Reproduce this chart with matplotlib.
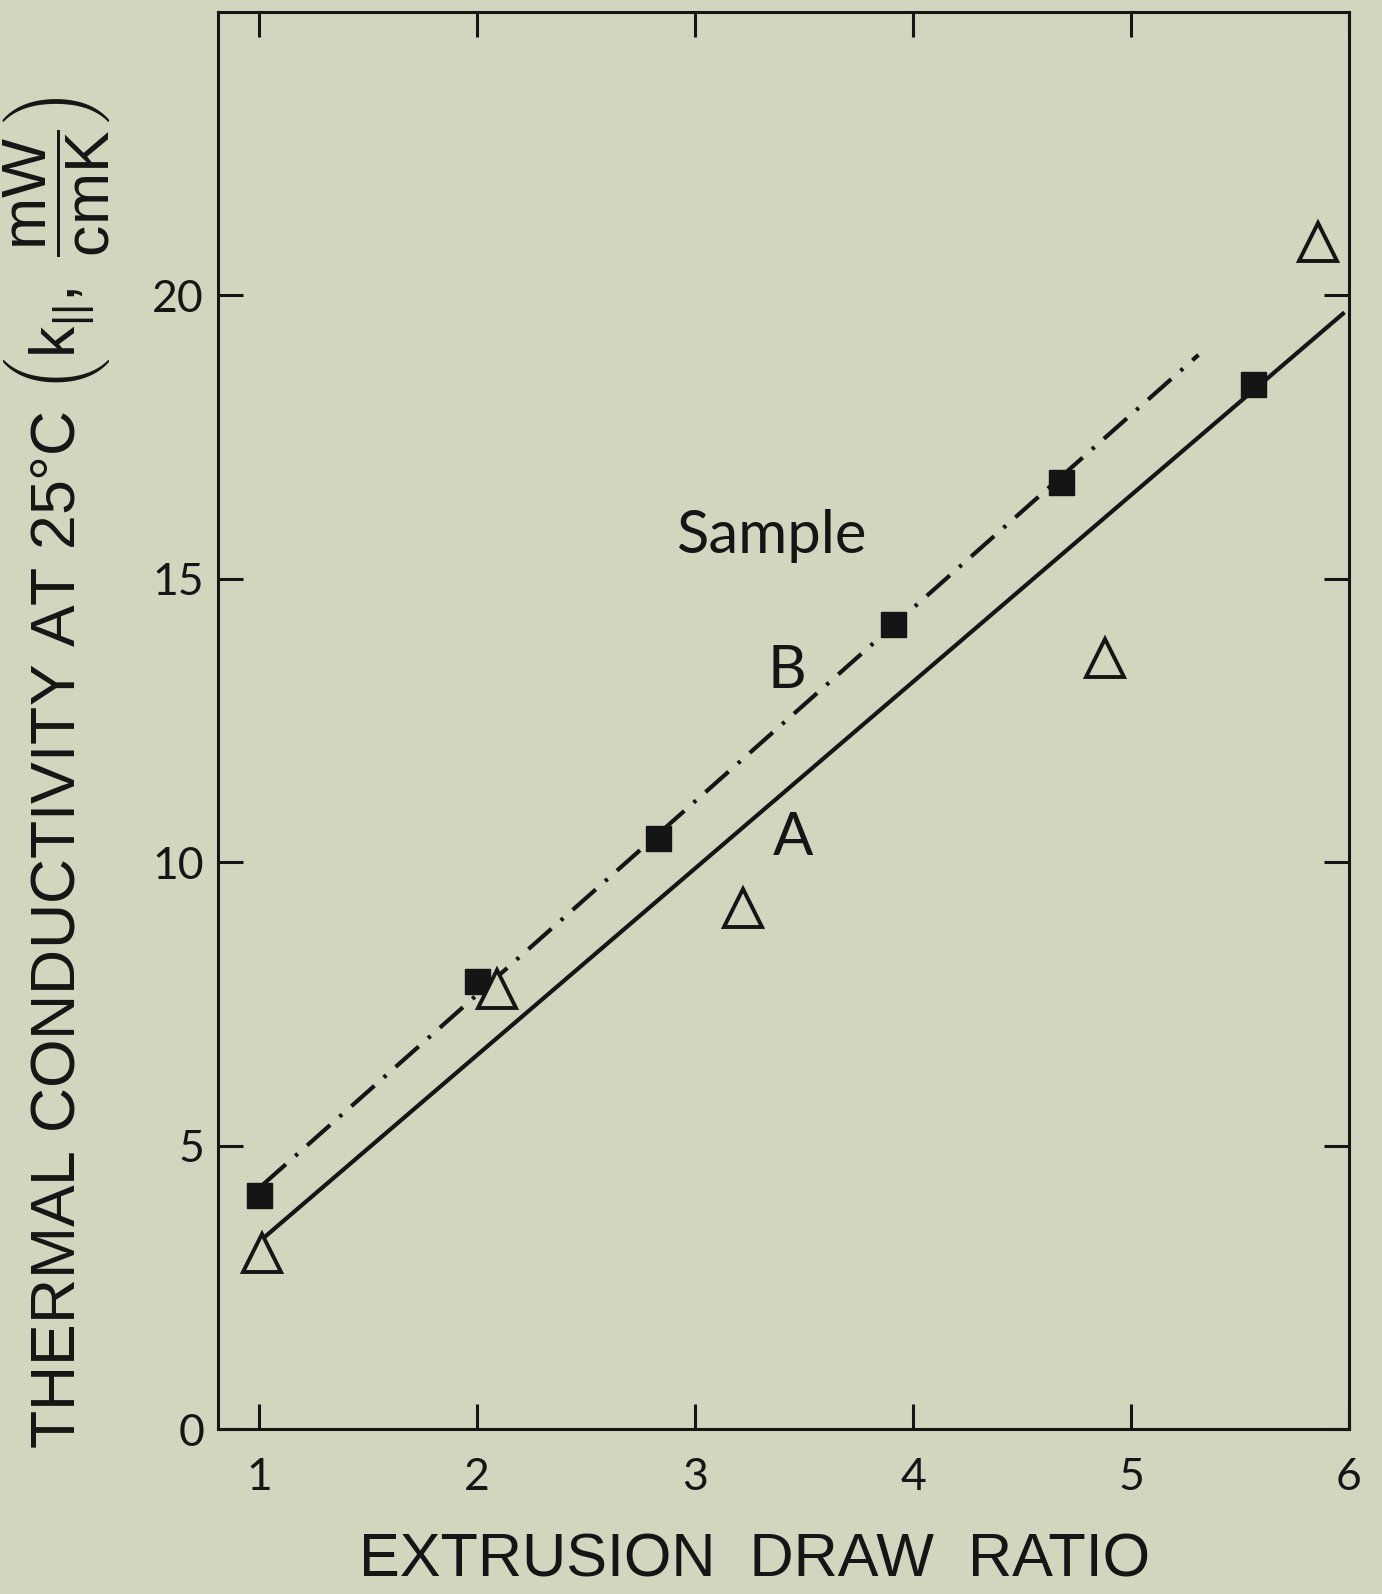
import matplotlib
matplotlib.use("Agg")
import matplotlib.pyplot as plt

# sample B (filled squares)
b_x = [1.0, 2.0, 2.83, 3.91, 4.68, 5.56]
b_y = [4.13, 7.90, 10.43, 14.2, 16.71, 18.43]
# sample A (open triangles)
a_x = [1.01, 2.09, 3.22, 4.88, 5.86]
a_y = [3.11, 7.77, 9.19, 13.6, 20.95]

# fitted lines (end points)
fit_a_x = [1.016, 5.98]
fit_a_y = [3.36, 19.70]
fit_b_x = [1.016, 5.31]
fit_b_y = [4.31, 18.95]

x_ticks = [1, 2, 3, 4, 5, 6]
y_ticks = [0, 5, 10, 15, 20]

bg = "#d3d5bf"
ink = "#151515"

plt.rcParams["mathtext.fontset"] = "custom"
plt.rcParams["mathtext.rm"] = "Liberation Sans"
plt.rcParams["mathtext.it"] = "Liberation Sans"

fig = plt.figure(figsize=(13.82, 15.94), dpi=100, facecolor=bg)
ax = fig.add_axes([0.1577, 0.1035, 0.8183, 0.889])
ax.set_facecolor(bg)

ax.plot(fit_a_x, fit_a_y, color=ink, lw=3.0, solid_capstyle="butt")
ax.plot(fit_b_x, fit_b_y, color=ink, lw=3.0, linestyle=(0, (7.4, 3.0, 0.8, 3.0)))

ax.plot(b_x, b_y, linestyle="none", marker="s", ms=18, color=ink)
ax.plot(a_x, a_y, linestyle="none", marker="^", ms=27, mfc=bg, mec=ink, mew=2.8)

thin = dict(family="Lato", weight="normal", color=ink)
ax.text(3.35, 15.46, "Sample", fontsize=43, ha="center", va="baseline", **thin)
ax.text(3.42, 13.08, "B", fontsize=43, ha="center", va="baseline", **thin)
ax.text(3.45, 10.13, "A", fontsize=43, ha="center", va="baseline", **thin)

ax.set_xlim(0.81, 5.99)
ax.set_ylim(0, 25)

ax.set_xticks(x_ticks)
ax.set_yticks(y_ticks)
ax.set_xticklabels([str(t) for t in x_ticks], fontsize=32, **thin)
ax.set_yticklabels([str(t) for t in y_ticks], fontsize=32, **thin)
ax.tick_params(direction="in", length=18, width=2.2, color=ink,
               top=True, right=True)
ax.tick_params(axis="x", pad=20)
ax.tick_params(axis="y", pad=10)
for sp in ax.spines.values():
    sp.set_linewidth(2.2)
    sp.set_color(ink)

fig.text(0.546, 0.003, "EXTRUSION  DRAW  RATIO", fontsize=44, ha="center",
         va="bottom", color=ink, family="Liberation Sans")

ylabel = (r"THERMAL CONDUCTIVITY AT 25°C $\left(\mathrm{k_{||}},\ "
          r"\dfrac{\mathrm{mW}}{\mathrm{cmK}}\right)$")
fig.text(0.041, 0.515, ylabel, fontsize=45, rotation=90, ha="center",
         va="center", color=ink, family="Liberation Sans")

fig.savefig("out.png", dpi=100, facecolor=bg)
